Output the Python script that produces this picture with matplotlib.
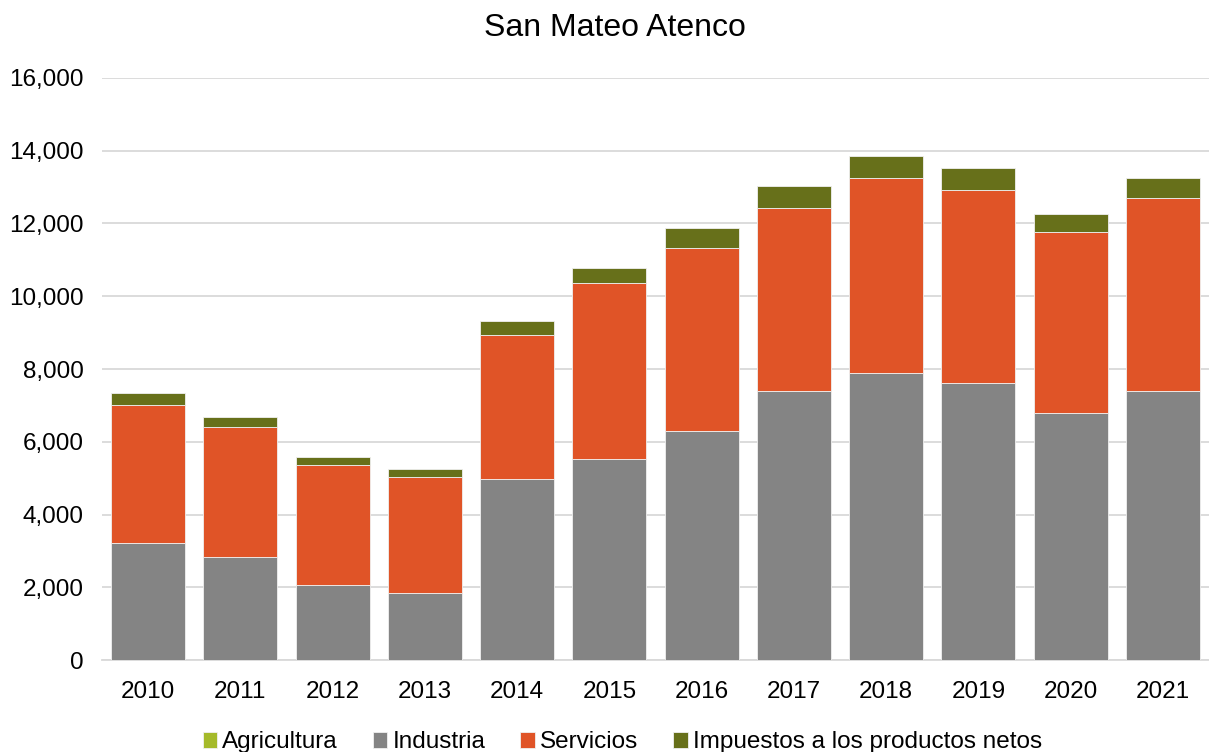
import numpy as np
import matplotlib.pyplot as plt
from matplotlib.ticker import FuncFormatter

plt.rcParams['font.family'] = ['Liberation Sans', 'DejaVu Sans']

years = ['2010', '2011', '2012', '2013', '2014', '2015',
         '2016', '2017', '2018', '2019', '2020', '2021']
agricultura = [8, 8, 7, 7, 8, 8, 8, 8, 8, 8, 8, 8]
industria = [3210, 2820, 2050, 1830, 4970, 5520, 6290, 7390, 7880, 7610, 6780, 7390]
servicios = [3790, 3580, 3300, 3190, 3960, 4830, 5040, 5040, 5360, 5310, 4990, 5310]
impuestos = [330, 270, 220, 220, 370, 430, 550, 600, 620, 610, 490, 550]

series = [('Agricultura', agricultura, '#A5BA2A'),
          ('Industria', industria, '#848484'),
          ('Servicios', servicios, '#E05427'),
          ('Impuestos a los productos netos', impuestos, '#67701A')]

fig = plt.figure(figsize=(12.09, 7.52), dpi=100)
ax = fig.add_axes([102 / 1209, 0.1223, 1107 / 1209, 0.774])

x = np.arange(len(years))
bottom = np.zeros(len(years))
for name, vals, color in series:
    ax.bar(x, vals, width=0.8, bottom=bottom, color=color, label=name,
           edgecolor='#f0f0f0', linewidth=0.6, zorder=3)
    bottom += np.array(vals)

ax.set_ylim(0, 16000)
ax.set_xlim(-0.5, len(years) - 0.5)
ax.set_yticks(np.arange(0, 16001, 2000))
ax.yaxis.set_major_formatter(FuncFormatter(lambda v, p: f'{int(v):,}'))
ax.set_xticks(x)
ax.set_xticklabels(years)
ax.grid(axis='y', color='#D9D9D9', linewidth=1.3, zorder=0)
for s in ['top', 'right', 'left']:
    ax.spines[s].set_visible(False)
ax.spines['bottom'].set_color('#D9D9D9')
ax.spines['bottom'].set_linewidth(1.3)
ax.tick_params(axis='both', length=0, labelsize=17.5, colors='black')
ax.tick_params(axis='y', pad=13)
ax.tick_params(axis='x', pad=15)

fig.text(615 / 1209, 1 - 28 / 752, 'San Mateo Atenco', fontsize=23,
         ha='center', va='center')
ax.legend(loc='upper center', bbox_to_anchor=(0.47, -0.085), ncol=4,
          frameon=False, fontsize=17.5, handlelength=0.6, handleheight=0.6,
          handletextpad=0.2, columnspacing=1.45)

fig.savefig('out.png', dpi=100)
